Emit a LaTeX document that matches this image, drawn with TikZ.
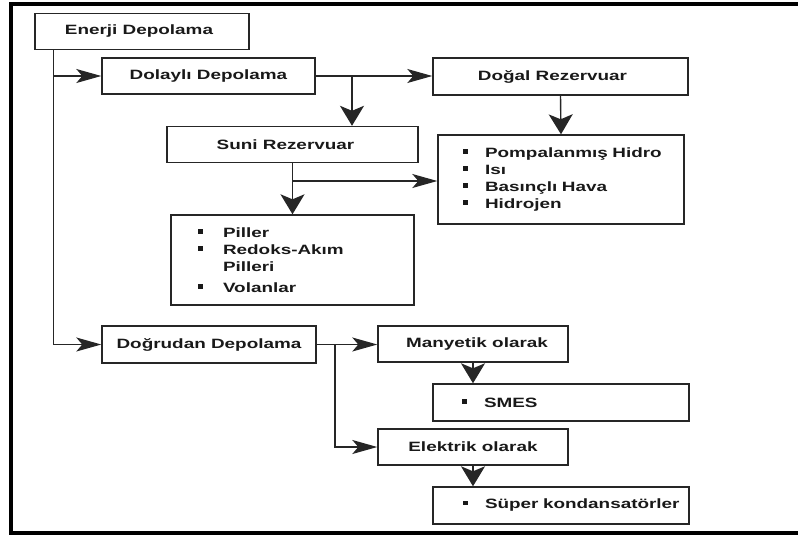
\documentclass[tikz,border=0pt]{standalone}
\usepackage{fontspec}
\setmainfont{Liberation Sans}[FakeStretch=1.4]
\usetikzlibrary{arrows.meta}
\newcommand\sqbul{\makebox[22pt][l]{\rule[3.5pt]{5pt}{4.5pt}}}
\newcommand\sqbulw{\makebox[25pt][l]{\rule[3.5pt]{5pt}{4.5pt}}}
\begin{document}
\begin{tikzpicture}[x=1pt,y=-1pt,
  box/.style={draw=black!85, line width=1.4pt, minimum height=36pt, inner sep=0pt,
    font=\fontsize{13.5}{17}\selectfont\bfseries, text=black!90},
  list/.style={box, align=left},
  conn/.style={draw=black!85, line width=1.4pt},
  harr/.style={conn, -{Stealth[length=25pt,width=14pt,inset=6pt]}},
  varr/.style={conn, -{Stealth[length=20pt,width=24pt,inset=5pt]}},
]
\useasboundingbox (0,0) rectangle (798,536);
% frame
\draw[line width=3.5pt] (9,4) -- (798,4);
\draw[line width=4pt] (9,533) -- (798,533);
\draw[line width=4.5pt] (11,2.5) -- (11,535);

\node[box, minimum width=214pt] (ed) at (142,31.5) {Enerji Depolama\hspace*{6pt}};
\node[box, minimum width=213pt] (dol) at (208.5,76) {Dolaylı Depolama};
\node[box, minimum width=255pt, minimum height=37pt] (dogal) at (560.5,76.5) {Doğal Rezervuar\hspace*{16pt}};
\node[box, minimum width=251pt] (suni) at (292.5,144.5) {Suni Rezervuar\hspace*{14pt}};
\node[list, minimum width=246pt, minimum height=89pt, text width=196pt] (pomp) at (561,179.5)
  {\mbox{\sqbul Pompalanmış Hidro}\\ \mbox{\sqbul Isı}\\ \mbox{\sqbul Basınçlı Hava}\\ \mbox{\sqbul Hidrojen}};
\node[list, minimum width=243pt, minimum height=90pt, text width=189pt] (pil) at (292.5,260)
  {\mbox{\sqbulw Piller}\\ \mbox{\sqbulw Redoks-Akım}\\ \mbox{\makebox[25pt]{}Pilleri}\\[4pt] \mbox{\sqbulw Volanlar}};
\node[box, minimum width=214pt, minimum height=37pt] (dog) at (209,344.5) {Doğrudan Depolama};
\node[box, minimum width=190pt] (man) at (473,344) {\hspace*{8pt}Manyetik olarak};
\node[list, minimum width=256pt, minimum height=37pt, text width=198pt] (smes) at (561,402.5) {\mbox{\sqbul SMES}};
\node[box, minimum width=190pt] (elek) at (473,447) {Elektrik olarak};
\node[list, minimum width=256pt, minimum height=37pt, text width=196pt] (sup) at (561,505.5) {\mbox{\sqbul Süper kondansatörler}};

% connectors
\coordinate (t0) at ([xshift=19pt]ed.south west);
\draw[harr] (t0) |- (dog.west);
\draw[harr] (t0 |- dol.west) -- (dol.west);
\draw[harr] (dol.east) -- (dol.east -| dogal.west);
\coordinate (b1) at (352,76);
\draw[varr] (b1) -- (b1 |- suni.north);
\draw[varr] (dogal.south) -- (pomp.north);
\draw[varr] (suni.south) -- (pil.north);
\coordinate (b2) at (292.5,181);
\draw[harr] (b2) -- (b2 -| pomp.west);
\draw[harr] (dog.east) -- (dog.east -| man.west);
\coordinate (b3) at (335,344.5);
\draw[harr] (b3) |- (elek.west);
\draw[varr] (man.south) -- (man.south |- smes.north);
\draw[varr] (elek.south) -- (elek.south |- sup.north);
\end{tikzpicture}
\end{document}
